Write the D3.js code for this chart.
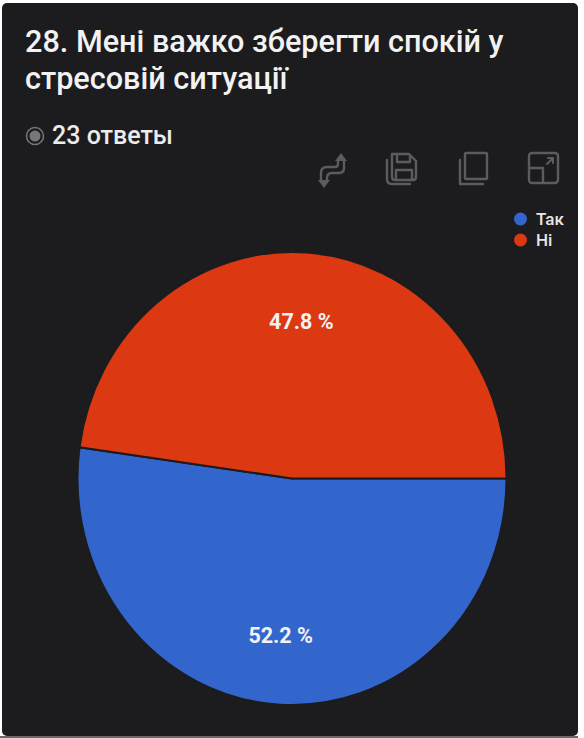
<!DOCTYPE html>
<html>
<head>
<meta charset="utf-8">
<script src="https://cdn.jsdelivr.net/npm/d3@7"></script>
<style>
html,body{margin:0;padding:0;background:#fff;overflow:hidden}
text{font-family:Roboto,sans-serif}
</style>
</head>
<body>
<svg id="chart" width="584" height="738"></svg>
<script>
const titleLines = ["28. Мені важко зберегти спокій у", "стресовій ситуації"];
const responses = "23 ответы";
const categories = ["Так", "Ні"];
const values = [52.2, 47.8];
const colors = ["#3366cc", "#dc3912"];

const svg = d3.select("#chart");

// Dark card behind everything
svg.append("rect").attr("x", 2).attr("y", 3).attr("width", 576).attr("height", 733)
  .attr("rx", 5).attr("fill", "#1c1c1e");
svg.append("rect").attr("x", 0).attr("y", 736).attr("width", 578).attr("height", 2).attr("fill", "#6a6a6a");

// Title
const title = svg.append("g").attr("fill", "#f2f2f2").attr("font-size", 30.6).attr("font-weight", 500);
titleLines.forEach((line, i) => {
  title.append("text").attr("x", 25).attr("y", 52 + i * 37).text(line);
});

// Response count with its radio marker
svg.append("circle").attr("cx", 35).attr("cy", 136).attr("r", 8.5)
  .attr("fill", "none").attr("stroke", "#77777a").attr("stroke-width", 1.5);
svg.append("circle").attr("cx", 35).attr("cy", 136).attr("r", 5.5).attr("fill", "#77777a");
svg.append("text").attr("x", 52).attr("y", 144).attr("font-size", 25).attr("font-weight", 500)
  .attr("fill", "#ececec").text(responses);

// Toolbar icons
const icons = svg.append("g").attr("fill", "none").attr("stroke", "#5c5c5e").attr("stroke-width", 2.4)
  .attr("stroke-linejoin", "round").attr("stroke-linecap", "round");
// swap
icons.append("path").attr("d", "M338 160 V164 Q338 167 335 167 H327 Q321 167 321 173 V180");
icons.append("path").attr("d", "M344 160 V168 Q344 173 339 173 H332 Q327 173 327 178 V180");
icons.append("path").attr("d", "M335 161 L341 153 L347 161 Z").attr("fill", "#5c5c5e").attr("stroke", "none");
icons.append("path").attr("d", "M318 180 L324 188 L330 180 Z").attr("fill", "#5c5c5e").attr("stroke", "none");
// save
icons.append("path").attr("d", "M392 154 H409 L416 161 V177 Q416 180 413 180 H395 Q392 180 392 177 Z");
icons.append("path").attr("d", "M397 154 V162 H410 V156");
icons.append("path").attr("d", "M396 180 V170 H412 V180");
icons.append("path").attr("d", "M387 160 V179 Q387 184 392 184 H410");
// copy
icons.append("rect").attr("x", 465).attr("y", 153).attr("width", 22).attr("height", 26).attr("rx", 1);
icons.append("path").attr("d", "M460 160 V184 H483");
// expand
icons.append("rect").attr("x", 529).attr("y", 153).attr("width", 29).attr("height", 30).attr("rx", 3);
icons.append("path").attr("d", "M529 168 H543 V183");
icons.append("path").attr("d", "M547 164 L553 158 M548 158 H553 V163").attr("stroke-width", 2);

// Pie, drawn slightly taller than wide
const radius = 214.5;
const pieGroup = svg.append("g").attr("transform", "translate(292,478.5) scale(1,1.056)");
const pie = d3.pie().sort(null)
  .startAngle(Math.PI / 2).endAngle(Math.PI / 2 + 2 * Math.PI);
const arc = d3.arc().innerRadius(0).outerRadius(radius);
const slices = pie(values);
pieGroup.selectAll("path").data(slices).join("path")
  .attr("d", arc)
  .attr("fill", (d, i) => colors[i])
  .attr("stroke", "#1c1c1e").attr("stroke-width", 2);

// Percent labels inside each slice
const labelArc = d3.arc().innerRadius(radius * 0.695).outerRadius(radius * 0.695);
slices.forEach((d) => {
  const [x, y] = labelArc.centroid(d);
  svg.append("text").attr("x", 291 + x).attr("y", 478.5 + y * 1.056 + 7.5)
    .attr("text-anchor", "middle").attr("font-size", 21.5).attr("font-weight", 700).attr("fill", "#f2f2f2")
    .text(d.value.toFixed(1) + " %");
});

// Legend
const legendY = d3.scalePoint().domain(categories).range([219, 240]);
const legend = svg.append("g");
categories.forEach((c, i) => {
  legend.append("circle").attr("cx", 520.5).attr("cy", legendY(c)).attr("r", 6.5).attr("fill", colors[i]);
  legend.append("text").attr("x", 536).attr("y", legendY(c) + 6).attr("font-size", 17).attr("font-weight", 500)
    .attr("fill", "#e6e6e6").text(c);
});
</script>
</body>
</html>
